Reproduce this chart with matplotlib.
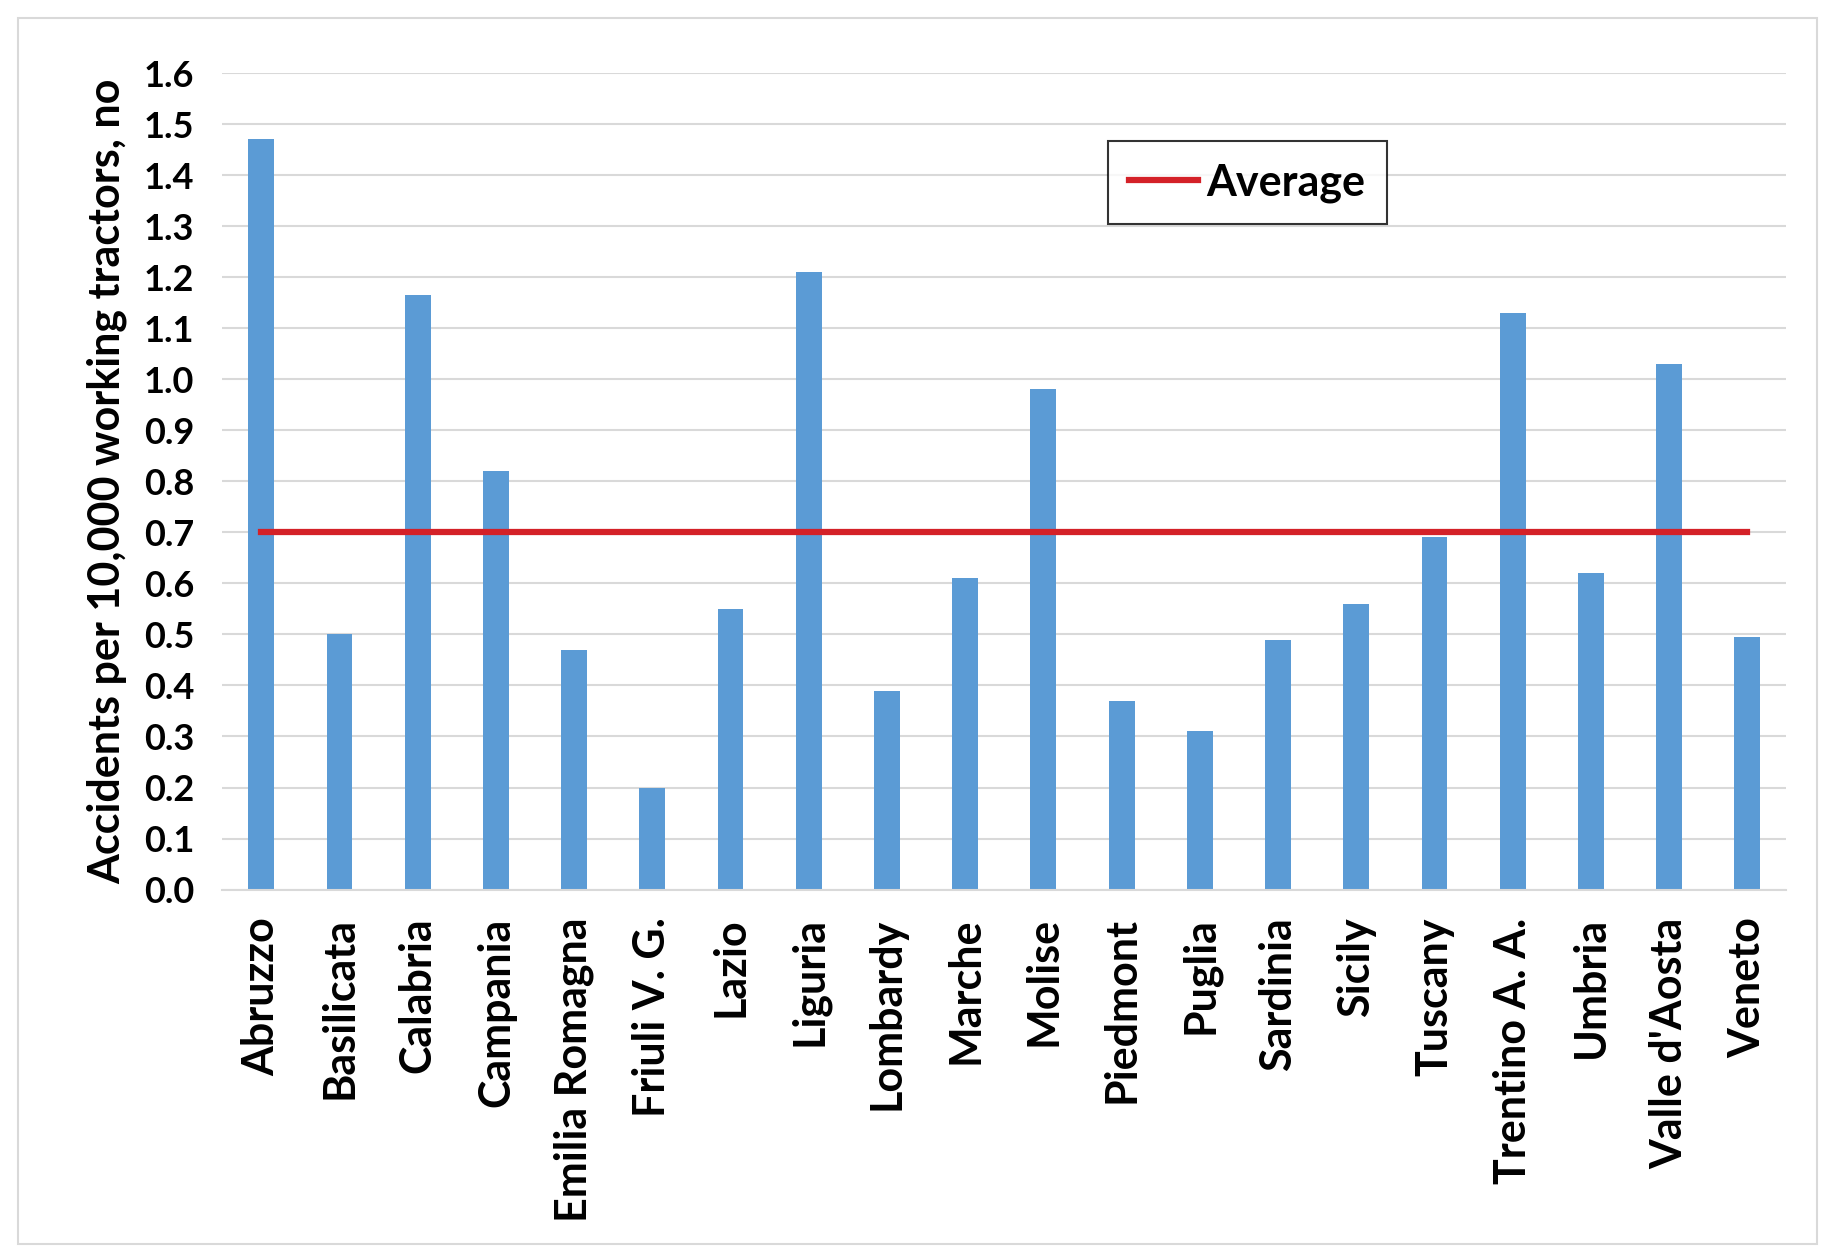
import matplotlib
matplotlib.use("Agg")
import matplotlib.pyplot as plt
from matplotlib.patches import Rectangle

regions = ["Abruzzo", "Basilicata", "Calabria", "Campania", "Emilia Romagna",
           "Friuli V. G.", "Lazio", "Liguria", "Lombardy", "Marche", "Molise",
           "Piedmont", "Puglia", "Sardinia", "Sicily", "Tuscany", "Trentino A. A.",
           "Umbria", "Valle d'Aosta", "Veneto"]
accidents = [1.47, 0.50, 1.165, 0.82, 0.47, 0.20, 0.55, 1.21, 0.39, 0.61, 0.98,
             0.37, 0.31, 0.49, 0.56, 0.69, 1.13, 0.62, 1.03, 0.495]
average = [0.70] * len(regions)
yticks = [round(i * 0.1, 1) for i in range(17)]

plt.rcParams['font.family'] = ['Lato', 'DejaVu Sans']
plt.rcParams['font.weight'] = 'bold'

fig = plt.figure(figsize=(18.36, 12.6), dpi=100)
ax = fig.add_axes([0.121, 0.294, 0.852, 0.648])

x = list(range(len(regions)))
ax.bar(x, accidents, width=0.33, color="#5B9BD5", zorder=2)
ax.plot(x, average, color="#D42128", linewidth=4.5, zorder=3, label="Average")

ax.set_xlim(-0.5, len(regions) - 0.5)
ax.set_ylim(0, 1.6)
ax.set_yticks(yticks)
ax.set_yticklabels([f"{v:.1f}" for v in yticks])
ax.set_xticks(x)
ax.set_xticklabels(regions, rotation=90)
ax.yaxis.grid(True, color="#D9D9D9", linewidth=1.5, zorder=0)
ax.set_axisbelow(True)
for s in ["top", "right", "left"]:
    ax.spines[s].set_visible(False)
ax.spines["bottom"].set_color("#D9D9D9")
ax.spines["bottom"].set_linewidth(1.5)
ax.tick_params(axis="both", length=0, colors="black")
ax.tick_params(axis="y", pad=20, labelsize=26)
ax.tick_params(axis="x", pad=20, labelsize=31)
for lbl in ax.get_xticklabels() + ax.get_yticklabels():
    lbl.set_fontweight("bold")

ax.set_ylabel("Accidents per 10,000 working tractors, no", fontsize=31,
              fontweight="bold", labelpad=12)

leg = ax.legend(loc="upper left", bbox_to_anchor=(0.566, 0.917), fontsize=31,
                frameon=True, fancybox=False, handlelength=1.6, handletextpad=0.2,
                borderpad=0.5, borderaxespad=0)
leg.get_frame().set_edgecolor("black")
leg.get_frame().set_linewidth(1.5)
for t in leg.get_texts():
    t.set_fontweight("bold")

fig.patches.append(Rectangle((0.0098, 0.0127), 0.9797, 0.973, transform=fig.transFigure,
                             fill=False, edgecolor="#D9D9D9", linewidth=1.5))

fig.savefig("out.png", dpi=100, facecolor="white")
